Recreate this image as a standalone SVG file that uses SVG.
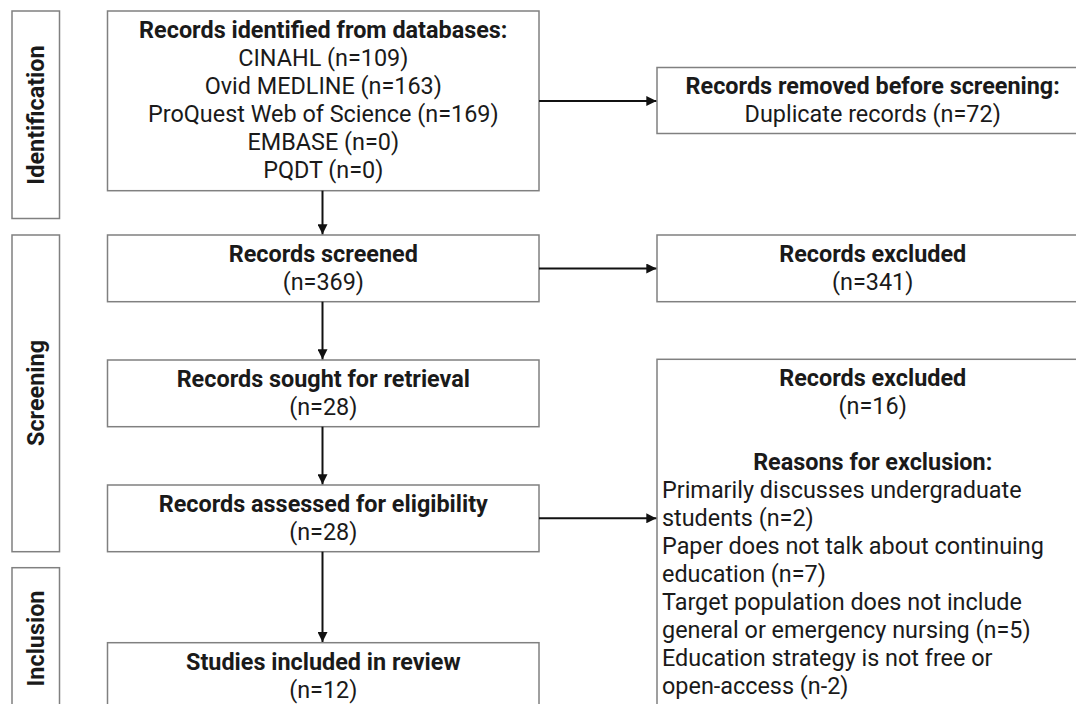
<svg xmlns="http://www.w3.org/2000/svg" width="1076" height="704" viewBox="0 0 1076 704">
<defs>
<marker id="ah" viewBox="0 0 10 10" refX="10" refY="5" markerWidth="5" markerHeight="5" markerUnits="strokeWidth" orient="auto">
<path d="M0,0 L10,5 L0,10 z" fill="#111"/>
</marker>
<style>
.box{fill:#fff;stroke:#808080;stroke-width:1.5}
.t{font-family:Roboto,"Liberation Sans",sans-serif;font-size:23.4px;fill:#1a1a1a}
.c{text-anchor:middle}
.b{font-weight:bold}
.lab{font-family:Roboto,"Liberation Sans",sans-serif;font-size:23.4px;font-weight:bold;fill:#1a1a1a;text-anchor:middle}
.arr{stroke:#111;stroke-width:2;fill:none;marker-end:url(#ah)}
</style>
</defs>
<rect width="1076" height="704" fill="#fff"/>
<g id="label-identification">
<rect class="box" x="12" y="11" width="47.5" height="207.5"/>
<text class="lab" transform="translate(44,115) rotate(-90)">Identification</text>
</g>
<g id="label-screening">
<rect class="box" x="12" y="235" width="47.5" height="316.7"/>
<text class="lab" transform="translate(44,393) rotate(-90)">Screening</text>
</g>
<g id="label-inclusion">
<rect class="box" x="12" y="567.7" width="47.5" height="142"/>
<text class="lab" transform="translate(44,638.5) rotate(-90)">Inclusion</text>
</g>
<g id="identified">
<rect class="box" x="107.5" y="11" width="431.5" height="179.7"/>
<text class="t c b" x="323.3" y="38">Records identified from databases:</text>
<text class="t c" x="323.3" y="66">CINAHL (n=109)</text>
<text class="t c" x="323.3" y="94">Ovid MEDLINE (n=163)</text>
<text class="t c" x="323.3" y="122">ProQuest Web of Science (n=169)</text>
<text class="t c" x="323.3" y="150">EMBASE (n=0)</text>
<text class="t c" x="323.3" y="178">PQDT (n=0)</text>
</g>
<g id="removed">
<rect class="box" x="657" y="67.5" width="431.5" height="66"/>
<text class="t c b" x="872.7" y="94">Records removed before screening:</text>
<text class="t c" x="872.7" y="122">Duplicate records (n=72)</text>
</g>
<g id="screened">
<rect class="box" x="107.5" y="235" width="431.5" height="66.7"/>
<text class="t c b" x="323.3" y="262">Records screened</text>
<text class="t c" x="323.3" y="290">(n=369)</text>
</g>
<g id="excluded1">
<rect class="box" x="657" y="235" width="431.5" height="66.7"/>
<text class="t c b" x="872.7" y="262">Records excluded</text>
<text class="t c" x="872.7" y="290">(n=341)</text>
</g>
<g id="sought">
<rect class="box" x="107.5" y="360" width="431.5" height="66.7"/>
<text class="t c b" x="323.3" y="387">Records sought for retrieval</text>
<text class="t c" x="323.3" y="415">(n=28)</text>
</g>
<g id="excluded2">
<rect class="box" x="657" y="359.3" width="431.5" height="350"/>
<text class="t c b" x="872.7" y="386">Records excluded</text>
<text class="t c" x="872.7" y="414">(n=16)</text>
<text class="t c b" x="872.7" y="470">Reasons for exclusion:</text>
<text class="t" x="662" y="498">Primarily discusses undergraduate</text>
<text class="t" x="662" y="526">students (n=2)</text>
<text class="t" x="662" y="554">Paper does not talk about continuing</text>
<text class="t" x="662" y="582">education (n=7)</text>
<text class="t" x="662" y="610">Target population does not include</text>
<text class="t" x="662" y="638">general or emergency nursing (n=5)</text>
<text class="t" x="662" y="666">Education strategy is not free or</text>
<text class="t" x="662" y="694">open-access (n-2)</text>
</g>
<g id="assessed">
<rect class="box" x="107.5" y="485" width="431.5" height="66.7"/>
<text class="t c b" x="323.3" y="512">Records assessed for eligibility</text>
<text class="t c" x="323.3" y="540">(n=28)</text>
</g>
<g id="included">
<rect class="box" x="107.5" y="642.7" width="431.5" height="66.7"/>
<text class="t c b" x="323.3" y="670">Studies included in review</text>
<text class="t c" x="323.3" y="698">(n=12)</text>
</g>
<g id="connectors">
<line class="arr" x1="322.5" y1="190.7" x2="322.5" y2="234.3"/>
<line class="arr" x1="322.5" y1="301.7" x2="322.5" y2="359.3"/>
<line class="arr" x1="322.5" y1="426.7" x2="322.5" y2="484.3"/>
<line class="arr" x1="322.5" y1="551.7" x2="322.5" y2="642"/>
<line class="arr" x1="539" y1="101" x2="656.3" y2="101"/>
<line class="arr" x1="539" y1="268.5" x2="656.3" y2="268.5"/>
<line class="arr" x1="539" y1="518.3" x2="656.3" y2="518.3"/>
</g>
</svg>
